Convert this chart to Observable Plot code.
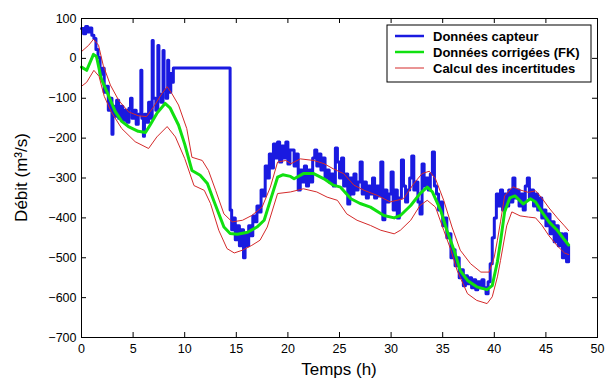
<!DOCTYPE html>
<html>
<head>
<meta charset="utf-8">
<script src="https://cdn.jsdelivr.net/npm/d3@7"></script>
<script src="https://cdn.jsdelivr.net/npm/@observablehq/plot@0.6"></script>
<style>
  html, body { margin: 0; padding: 0; background: #fff; }
</style>
</head>
<body>
<div id="chart"></div>
<script>
const xTicks = [0, 5, 10, 15, 20, 25, 30, 35, 40, 45, 50];
const yTicks = [-700, -600, -500, -400, -300, -200, -100, 0, 100];

const seriesNames = ["Données capteur", "Données corrigées (FK)", "Calcul des incertitudes"];
const xLabel = "Temps (h)";
const yLabel = "Débit (m³/s)";

// Données capteur (step signal)
const blueT = [0.0,0.2,0.4,0.6,0.8,1.0,1.2,1.4,1.6,1.8,2.0,2.2,2.4,2.6,2.8,2.95,3.05,3.2,3.4,3.6,3.8,4.0,4.2,4.4,4.6,4.75,4.9,5.1,5.3,5.5,5.75,5.85,6.0,6.1,6.3,6.5,6.7,6.85,6.95,7.2,7.4,7.5,7.7,7.9,8.0,8.2,8.35,8.45,8.65,8.8,8.9,
14.4,14.55,14.7,14.9,15.1,15.3,15.5,15.7,15.85,16.0,16.2,16.4,16.6,16.8,17.0,17.2,17.4,17.6,17.8,18.0,18.2,18.4,18.6,18.8,19.0,19.2,19.4,19.6,19.8,20.0,20.2,
20.4,20.6,20.8,21.0,21.2,21.4,21.6,21.8,22.0,22.2,22.4,22.6,22.8,23.0,23.2,23.4,23.6,23.8,24.0,24.2,24.4,24.6,24.8,25.0,25.2,25.4,25.6,25.8,26.0,26.2,26.4,26.6,26.8,27.0,27.2,27.4,27.6,27.8,28.0,28.2,28.4,28.6,28.8,29.0,29.2,29.4,29.6,29.8,30.0,30.2,30.4,30.6,30.8,31.0,31.2,31.4,31.6,31.8,32.0,32.2,32.4,32.6,32.8,33.0,33.2,33.4,33.6,33.8,34.0,34.2,34.4,34.6,34.8,35.0,35.2,35.4,35.6,35.8,36.0,36.2,36.4,36.6,36.8,37.0,37.2,37.4,37.6,37.8,38.0,38.2,38.4,38.6,38.8,39.0,39.2,39.4,39.6,39.8,40.0,40.2,40.4,40.6,40.8,41.0,41.2,41.4,41.6,41.8,42.0,42.2,42.4,42.6,42.8,43.0,43.2,43.4,43.6,43.8,44.0,44.2,44.4,44.6,44.8,45.0,45.2,45.4,45.6,45.8,46.0,46.2,46.4,46.6,46.8,47.0,47.2];
const blueV = [75,62,80,66,76,58,50,22,2,-40,-25,-85,-70,-130,-100,-190,-120,-145,-105,-150,-120,-155,-130,-160,-125,-100,-150,-130,-165,-140,-30,-150,-195,-140,-160,-110,-150,45,-100,-130,32,-90,-110,20,-80,-100,-5,-85,-38,-60,-24,
-380,-430,-400,-455,-420,-470,-430,-500,-440,-470,-420,-445,-395,-410,-370,-385,-330,-345,-270,-300,-240,-275,-215,-250,-210,-260,-220,-250,-210,-265,-230,
-230,-270,-240,-330,-280,-310,-270,-320,-280,-310,-250,-230,-270,-240,-280,-250,-300,-280,-310,-290,-320,-225,-260,-300,-250,-320,-290,-365,-300,-340,-290,-330,-310,-260,-340,-310,-350,-320,-340,-300,-350,-320,-345,-260,-405,-330,-360,-340,-285,-380,-330,-400,-350,-255,-320,-360,-330,-300,-245,-330,-310,-360,-390,-265,-320,-300,-330,-290,-235,-320,-340,-380,-360,-420,-400,-450,-440,-500,-480,-520,-500,-550,-530,-570,-545,-565,-550,-575,-555,-580,-560,-575,-555,-575,-590,-560,-515,-450,-400,-340,-370,-330,-380,-340,-370,-330,-360,-300,-350,-330,-370,-340,-380,-320,-300,-350,-330,-370,-340,-380,-350,-400,-380,-420,-390,-440,-410,-460,-420,-470,-440,-500,-440,-510,-470];

// Données corrigées (FK)
const greenT = [0.0,0.5,1.16,1.45,1.9,2.6,3.26,3.9,4.55,5.5,6.2,6.65,7.3,8.1,8.6,9.4,10.0,10.7,11.5,12.2,12.8,13.8,14.4,15.1,16.1,17.0,17.7,18.3,19.0,19.5,20.25,20.6,21.5,22.5,23.5,24.4,25.1,26.1,27.0,28.0,29.3,30.3,30.9,31.9,32.8,33.5,34.0,34.8,35.4,36.1,36.7,37.4,38.3,39.3,39.8,40.3,40.6,41.0,41.5,42.0,42.8,43.5,44.0,44.5,45.3,46.1,46.8,47.2];
const greenV = [-22,-30,10,5,-50,-92,-133,-158,-171,-183,-186,-167,-138,-113,-125,-167,-215,-281,-293,-314,-356,-423,-439,-441,-436,-423,-406,-356,-298,-292,-296,-302,-289,-289,-302,-318,-323,-352,-364,-373,-394,-400,-394,-369,-339,-323,-335,-381,-431,-481,-532,-557,-573,-580,-570,-510,-460,-385,-350,-345,-365,-352,-360,-381,-410,-431,-455,-468];

// Calcul des incertitudes (upper / lower bounds)
const upT = [0.0,0.7,1.16,1.65,2.1,2.8,3.6,4.55,5.5,6.3,7.0,7.8,8.3,8.75,9.4,10.2,10.7,11.7,12.3,13.0,13.8,14.6,15.6,16.5,17.5,18.3,19.0,19.8,20.3,21.2,22.5,23.5,24.4,25.4,26.4,27.4,28.7,29.9,31.2,32.2,33.0,33.7,34.3,35.1,35.9,36.7,37.7,38.7,39.5,40.0,40.3,40.6,41.0,41.8,42.5,43.3,44.0,44.6,45.3,46.1,46.8,47.2];
const upV = [17,33,48,33,-17,-67,-105,-134,-144,-146,-121,-88,-71,-88,-117,-176,-248,-256,-281,-331,-390,-410,-406,-394,-373,-323,-260,-256,-264,-252,-256,-264,-277,-289,-318,-331,-344,-360,-352,-314,-289,-283,-302,-356,-423,-481,-515,-536,-536,-498,-456,-410,-345,-322,-330,-336,-332,-350,-375,-400,-420,-432];
const loT = [0.0,0.5,1.2,1.7,2.2,2.9,3.9,5.2,6.5,7.3,8.3,9.1,10.0,10.9,11.9,12.5,13.3,14.1,14.8,15.6,16.5,17.3,18.0,19.0,20.25,21.5,22.8,23.8,24.8,25.7,26.7,28.0,29.0,30.3,30.9,31.9,32.8,33.5,34.3,35.1,35.8,36.4,37.4,38.3,39.3,39.8,40.3,40.6,41.2,41.7,42.5,43.3,44.0,44.6,45.3,46.1,46.8,47.2];
const loV = [-70,-60,-30,-45,-95,-135,-176,-209,-226,-197,-171,-197,-251,-319,-331,-364,-431,-477,-488,-481,-469,-456,-423,-339,-335,-327,-335,-348,-356,-390,-406,-419,-431,-440,-431,-406,-369,-356,-373,-431,-481,-532,-590,-607,-615,-598,-548,-507,-420,-385,-395,-398,-400,-418,-445,-470,-488,-492];

const colors = ["#1a1ae0", "#10e010", "#d42a2a"];

const toRows = (T, V) => T.map((t, i) => ({t, v: V[i]}));
const blue = toRows(blueT, blueV);
const green = toRows(greenT, greenV);
const upper = toRows(upT, upV);
const lower = toRows(loT, loV);

const W = 616, H = 381, mL = 81, mR = 19, mT = 18, mB = 44;
const plotW = W - mL - mR, plotH = H - mT - mB;
const tk = 5;

const chart = Plot.plot({
  width: W, height: H,
  marginLeft: mL, marginRight: mR, marginTop: mT, marginBottom: mB,
  style: {fontFamily: "'Liberation Sans', Arial, sans-serif", fontSize: "12.5px", background: "#fff", color: "#000"},
  x: {domain: [0, 50], ticks: xTicks, label: null},
  y: {domain: [-700, 100], ticks: yTicks, label: null},
  marks: [
    Plot.line(blue, {x: "t", y: "v", curve: "step-after", stroke: colors[0], strokeWidth: 3}),
    Plot.line(green, {x: "t", y: "v", stroke: colors[1], strokeWidth: 3}),
    Plot.line(upper, {x: "t", y: "v", stroke: colors[2], strokeWidth: 1}),
    Plot.line(lower, {x: "t", y: "v", stroke: colors[2], strokeWidth: 1}),
    Plot.tickX(xTicks, {x: d => d, insetTop: plotH - tk, stroke: "#000"}),
    Plot.tickX(xTicks, {x: d => d, insetBottom: plotH - tk, stroke: "#000"}),
    Plot.tickY(yTicks, {y: d => d, insetRight: plotW - tk, stroke: "#000"}),
    Plot.tickY(yTicks, {y: d => d, insetLeft: plotW - tk, stroke: "#000"}),
    Plot.frame({stroke: "#000"}),
    Plot.axisX({ticks: xTicks, tickSize: 0, tickPadding: 7, label: null, fill: "#000"}),
    Plot.axisY({ticks: yTicks, tickSize: 0, tickPadding: 5, label: null, fill: "#000"})
  ]
});
document.getElementById("chart").appendChild(chart);

const svg = d3.select(chart);
svg.append("text")
  .attr("x", mL + plotW / 2).attr("y", 375)
  .attr("text-anchor", "middle")
  .style("font-size", "17px").attr("fill", "#000")
  .text(xLabel);
svg.append("text")
  .attr("transform", `translate(27,${mT + plotH / 2}) rotate(-90)`)
  .attr("text-anchor", "middle")
  .style("font-size", "17px").attr("fill", "#000")
  .text(yLabel);

// Legend
const lg = svg.append("g").attr("text-anchor", "start");
lg.append("rect").attr("x", 387).attr("y", 25).attr("width", 204).attr("height", 57)
  .attr("fill", "#fff").attr("stroke", "#000").attr("stroke-width", 1);
const rowsY = [36, 52, 68];
const widths = [2.5, 2.5, 1];
seriesNames.forEach((name, i) => {
  lg.append("line").attr("x1", 395).attr("x2", 424).attr("y1", rowsY[i]).attr("y2", rowsY[i])
    .attr("stroke", colors[i]).attr("stroke-width", widths[i]);
  lg.append("text").attr("x", 433).attr("y", rowsY[i] + 4.8)
    .attr("text-anchor", "start")
    .style("font-size", "13px").style("font-weight", "bold").attr("fill", "#000")
    .text(name);
});
</script>
</body>
</html>
